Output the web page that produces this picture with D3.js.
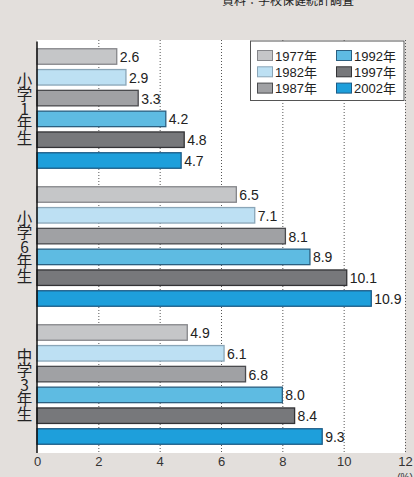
<!DOCTYPE html>
<html><head><meta charset="utf-8">
<script src="https://cdn.jsdelivr.net/npm/d3@7"></script>
<style>
html,body{margin:0;padding:0;background:#e3dfdc;}
svg{display:block;}
text{font-family:"Liberation Sans",Arial,"Noto Sans CJK JP",sans-serif;}
.cjk{font-family:"Noto Sans CJK JP","Liberation Sans",sans-serif;}
.vert{writing-mode:vertical-rl;text-orientation:upright;}
</style></head>
<body>
<script>
const groups = ["小学1年生", "小学6年生", "中学3年生"];
const years = ["1977年", "1982年", "1987年", "1992年", "1997年", "2002年"];
const values1 = [2.6, 2.9, 3.3, 4.2, 4.8, 4.7];
const values6 = [6.5, 7.1, 8.1, 8.9, 10.1, 10.9];
const valuesJ3 = [4.9, 6.1, 6.8, 8.0, 8.4, 9.3];
const xTicks = [0, 2, 4, 6, 8, 10, 12];
const fills = ["#c5c6c8", "#bde0f3", "#a0a1a4", "#5ebbe2", "#77787b", "#1e9fdb"];
const strokes = ["#85868a", "#8aa6b8", "#4a4b4e", "#2b5f80", "#333336", "#1b5b86"];

const seriesByGroup = [values1, values6, valuesJ3];
const W = 414, H = 477;
const svg = d3.select("body").append("svg").attr("width", W).attr("height", H);

const x = d3.scaleLinear().domain([0, 12]).range([37, 405]);
const yG = d3.scaleBand().domain(groups).range([39.5, 453.5]).padding(0);
const yY = d3.scaleBand().domain(years).range([0, yG.bandwidth()]).paddingInner(0.255).paddingOuter(0.445);

// title (cut off at top, as in the reference)
svg.append("text").attr("class", "cjk").attr("x", 354).attr("y", 5)
  .attr("text-anchor", "end").attr("font-size", 12).attr("fill", "#222")
  .text("資料：学校保健統計調査");

// plot white area
svg.append("rect").attr("x", x(0)).attr("y", 40).attr("width", x(12) - x(0)).attr("height", 413).attr("fill", "#fff");

// gridlines
svg.append("g").selectAll("line").data(xTicks.slice(1)).join("line")
  .attr("x1", d => x(d) + 0.5).attr("x2", d => x(d) + 0.5)
  .attr("y1", 40).attr("y2", 453)
  .attr("stroke", "#555").attr("stroke-width", 1).attr("stroke-dasharray", "1,2");

// bars
const gg = svg.append("g").selectAll("g").data(groups).join("g")
  .attr("transform", d => `translate(0,${yG(d)})`);
gg.each(function(gname, gi) {
  const vals = seriesByGroup[gi];
  const data = years.map((yr, i) => ({yr, v: vals[i], i}));
  const g = d3.select(this);
  g.selectAll("rect").data(data).join("rect")
    .attr("x", x(0)).attr("y", d => yY(d.yr))
    .attr("width", d => x(d.v) - x(0)).attr("height", yY.bandwidth())
    .attr("fill", d => fills[d.i]).attr("stroke", d => strokes[d.i]).attr("stroke-width", 1.3);
  g.selectAll("text.val").data(data).join("text").attr("class", "val")
    .attr("x", d => x(d.v) + 3).attr("y", d => yY(d.yr) + yY.bandwidth() / 2 + 5.5)
    .attr("font-size", 14).attr("fill", "#222")
    .text(d => d.v.toFixed(1));
  // vertical group label
  g.append("text").attr("class", "cjk vert")
    .attr("x", 24.5).attr("y", yG.bandwidth() / 2)
    .attr("text-anchor", "middle").attr("font-size", 15.5).attr("letter-spacing", -1)
    .attr("fill", "#222").text(gname);
});

// axis line
svg.append("line").attr("x1", x(0)).attr("x2", x(0)).attr("y1", 41.5).attr("y2", 453)
  .attr("stroke", "#111").attr("stroke-width", 1.5);

// x axis labels
const xAxis = d3.axisBottom(x).tickValues(xTicks).tickSize(0).tickPadding(0).tickFormat(d3.format("d"));
const ax = svg.append("g").attr("transform", "translate(0,457)").call(xAxis);
ax.select(".domain").remove();
ax.selectAll("text").attr("font-size", 13).attr("fill", "#333").attr("dy", "0.71em")
  .attr("font-family", "Liberation Sans, Arial, sans-serif");
svg.append("text").attr("x", x(12)).attr("y", 481).attr("text-anchor", "middle")
  .attr("font-size", 10).attr("fill", "#333").text("(%)");

// legend
const lg = svg.append("g");
lg.append("rect").attr("x", 250.5).attr("y", 41).attr("width", 153.5).attr("height", 59.5)
  .attr("fill", "#fff").attr("stroke", "#555").attr("stroke-width", 1);
const legendItems = lg.selectAll("g").data(years).join("g")
  .attr("transform", (d, i) => `translate(${i < 3 ? 257.5 : 336.5},${50.5 + (i % 3) * 16.3})`);
legendItems.append("rect").attr("width", 15).attr("height", 10)
  .attr("fill", (d, i) => fills[i]).attr("stroke", (d, i) => strokes[i]).attr("stroke-width", 1);
legendItems.append("text").attr("x", 17.5).attr("y", 10).attr("font-size", 13).attr("fill", "#222")
  .text(d => d);
</script>
</body></html>
